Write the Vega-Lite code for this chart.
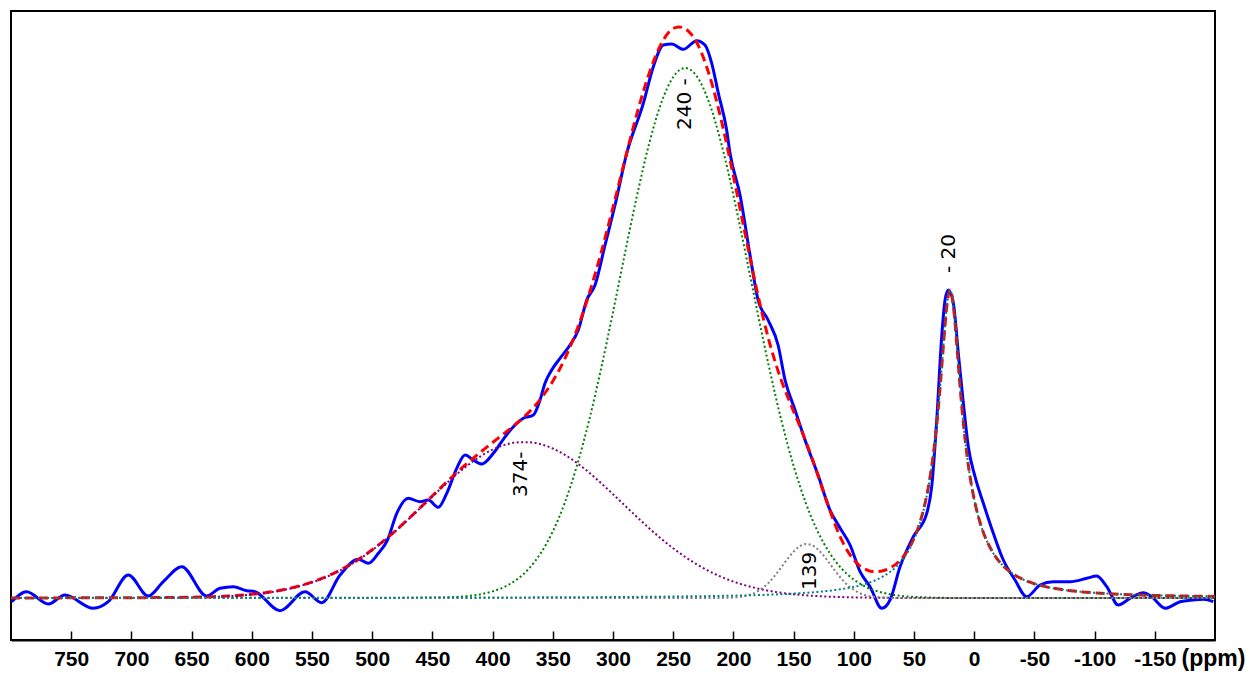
{
  "$schema": "https://vega.github.io/schema/vega-lite/v6.json",
  "width": 1204,
  "height": 629,
  "autosize": {"type": "none"},
  "padding": {"left": 11, "top": 11, "right": 35, "bottom": 33},
  "background": "white",
  "config": {"view": {"stroke": "#000000", "strokeWidth": 2}},
  "datasets": {
    "exp": [
      {"ppm": 799.4, "v": -3.7}, {"ppm": 787.0, "v": 6.3}, {"ppm": 769.0, "v": -6}, {"ppm": 755.2, "v": 3},
      {"ppm": 731.6, "v": -10.3}, {"ppm": 719.2, "v": -3.7}, {"ppm": 702.6, "v": 23}, {"ppm": 686.0, "v": 2},
      {"ppm": 673.5, "v": 16.3}, {"ppm": 658.2, "v": 31.3}, {"ppm": 637.5, "v": 2}, {"ppm": 626.4, "v": 9.7},
      {"ppm": 615.4, "v": 11.3}, {"ppm": 604.2, "v": 7.3}, {"ppm": 597.3, "v": 6.3}, {"ppm": 576.6, "v": -12.7},
      {"ppm": 555.8, "v": 6.3}, {"ppm": 541.9, "v": -4.7}, {"ppm": 526.7, "v": 23}, {"ppm": 511.5, "v": 38.7},
      {"ppm": 503.2, "v": 34.7}, {"ppm": 494.9, "v": 44.7}, {"ppm": 487.3, "v": 58}, {"ppm": 479.6, "v": 84.7},
      {"ppm": 470.0, "v": 99.7}, {"ppm": 460.3, "v": 96.3}, {"ppm": 453.4, "v": 98}, {"ppm": 445.1, "v": 90.7},
      {"ppm": 438.1, "v": 104.7}, {"ppm": 429.8, "v": 129.7}, {"ppm": 422.9, "v": 143}, {"ppm": 416.0, "v": 138},
      {"ppm": 409.0, "v": 134}, {"ppm": 399.4, "v": 144.7}, {"ppm": 391.1, "v": 158.7}, {"ppm": 381.4, "v": 173},
      {"ppm": 374.5, "v": 179.7}, {"ppm": 366.2, "v": 183}, {"ppm": 360.6, "v": 198}, {"ppm": 356.5, "v": 214.7},
      {"ppm": 350.9, "v": 228}, {"ppm": 344.0, "v": 239.7}, {"ppm": 335.7, "v": 253}, {"ppm": 328.8, "v": 268},
      {"ppm": 321.8, "v": 298}, {"ppm": 314.9, "v": 313}, {"ppm": 306.6, "v": 353}, {"ppm": 298.3, "v": 393},
      {"ppm": 288.6, "v": 444.7}, {"ppm": 274.8, "v": 494.7}, {"ppm": 266.5, "v": 531.3}, {"ppm": 258.2, "v": 553},
      {"ppm": 251.2, "v": 554}, {"ppm": 241.6, "v": 548.7}, {"ppm": 230.5, "v": 557.3}, {"ppm": 223.6, "v": 553},
      {"ppm": 218.0, "v": 534.7}, {"ppm": 212.5, "v": 504.7}, {"ppm": 205.6, "v": 468}, {"ppm": 202.8, "v": 444.7},
      {"ppm": 194.5, "v": 403}, {"ppm": 186.2, "v": 343}, {"ppm": 179.5, "v": 298}, {"ppm": 171.2, "v": 278},
      {"ppm": 162.9, "v": 253}, {"ppm": 157.1, "v": 218}, {"ppm": 148.8, "v": 188}, {"ppm": 140.5, "v": 158},
      {"ppm": 129.7, "v": 123}, {"ppm": 119.8, "v": 88}, {"ppm": 111.4, "v": 70}, {"ppm": 103.1, "v": 53},
      {"ppm": 94.8, "v": 26.3}, {"ppm": 86.5, "v": 11.3}, {"ppm": 76.8, "v": -10.3}, {"ppm": 69.9, "v": -2},
      {"ppm": 61.6, "v": 31.3}, {"ppm": 50.6, "v": 61.3}, {"ppm": 39.4, "v": 84.7}, {"ppm": 35.3, "v": 111.3},
      {"ppm": 31.1, "v": 178}, {"ppm": 27.0, "v": 261.3}, {"ppm": 24.2, "v": 298}, {"ppm": 21.5, "v": 308},
      {"ppm": 17.3, "v": 294.7}, {"ppm": 13.2, "v": 244.7}, {"ppm": 9.0, "v": 194.7}, {"ppm": 4.9, "v": 151.3},
      {"ppm": -0.7, "v": 121.3}, {"ppm": -7.6, "v": 94.7}, {"ppm": -15.9, "v": 64.7}, {"ppm": -24.2, "v": 38},
      {"ppm": -33.9, "v": 18}, {"ppm": -43.6, "v": 1.3}, {"ppm": -54.7, "v": 13}, {"ppm": -65.7, "v": 16.3},
      {"ppm": -79.6, "v": 16.3}, {"ppm": -93.5, "v": 19.7}, {"ppm": -101.8, "v": 22}, {"ppm": -110.1, "v": 11.3},
      {"ppm": -119.7, "v": -7}, {"ppm": -129.4, "v": -0.3}, {"ppm": -140.5, "v": 5.3}, {"ppm": -147.4, "v": 1.3},
      {"ppm": -158.5, "v": -10.3}, {"ppm": -171.0, "v": -3.7}, {"ppm": -182.0, "v": -2}, {"ppm": -190.3, "v": -1.3},
      {"ppm": -198.6, "v": -3.7}
    ],
    "fit": [
      {"ppm": 800, "fit": 0.1, "g240": 0, "g374": 0, "g139": 0, "l20": 0.1},
      {"ppm": 790, "fit": 0.1, "g240": 0, "g374": 0, "g139": 0, "l20": 0.1},
      {"ppm": 780, "fit": 0.1, "g240": 0, "g374": 0, "g139": 0, "l20": 0.1},
      {"ppm": 770, "fit": 0.1, "g240": 0, "g374": 0, "g139": 0, "l20": 0.1},
      {"ppm": 760, "fit": 0.1, "g240": 0, "g374": 0, "g139": 0, "l20": 0.1},
      {"ppm": 750, "fit": 0.2, "g240": 0, "g374": 0, "g139": 0, "l20": 0.2},
      {"ppm": 740, "fit": 0.2, "g240": 0, "g374": 0, "g139": 0, "l20": 0.2},
      {"ppm": 730, "fit": 0.2, "g240": 0, "g374": 0, "g139": 0, "l20": 0.2},
      {"ppm": 720, "fit": 0.2, "g240": 0, "g374": 0, "g139": 0, "l20": 0.2},
      {"ppm": 710, "fit": 0.2, "g240": 0, "g374": 0, "g139": 0, "l20": 0.2},
      {"ppm": 700, "fit": 0.3, "g240": 0, "g374": 0.1, "g139": 0, "l20": 0.2},
      {"ppm": 690, "fit": 0.3, "g240": 0, "g374": 0.1, "g139": 0, "l20": 0.2},
      {"ppm": 680, "fit": 0.4, "g240": 0, "g374": 0.2, "g139": 0, "l20": 0.2},
      {"ppm": 670, "fit": 0.4, "g240": 0, "g374": 0.2, "g139": 0, "l20": 0.2},
      {"ppm": 660, "fit": 0.6, "g240": 0, "g374": 0.4, "g139": 0, "l20": 0.2},
      {"ppm": 650, "fit": 0.7, "g240": 0, "g374": 0.5, "g139": 0, "l20": 0.2},
      {"ppm": 640, "fit": 1.0, "g240": 0, "g374": 0.8, "g139": 0, "l20": 0.2},
      {"ppm": 630, "fit": 1.4, "g240": 0, "g374": 1.2, "g139": 0, "l20": 0.2},
      {"ppm": 620, "fit": 1.9, "g240": 0, "g374": 1.7, "g139": 0, "l20": 0.2},
      {"ppm": 610, "fit": 2.7, "g240": 0, "g374": 2.5, "g139": 0, "l20": 0.2},
      {"ppm": 600, "fit": 3.7, "g240": 0, "g374": 3.5, "g139": 0, "l20": 0.2},
      {"ppm": 590, "fit": 5.1, "g240": 0, "g374": 4.9, "g139": 0, "l20": 0.2},
      {"ppm": 580, "fit": 6.8, "g240": 0, "g374": 6.6, "g139": 0, "l20": 0.2},
      {"ppm": 570, "fit": 9.3, "g240": 0, "g374": 9.0, "g139": 0, "l20": 0.3},
      {"ppm": 560, "fit": 12.2, "g240": 0, "g374": 11.9, "g139": 0, "l20": 0.3},
      {"ppm": 550, "fit": 15.9, "g240": 0, "g374": 15.6, "g139": 0, "l20": 0.3},
      {"ppm": 540, "fit": 20.4, "g240": 0, "g374": 20.1, "g139": 0, "l20": 0.3},
      {"ppm": 530, "fit": 25.8, "g240": 0, "g374": 25.5, "g139": 0, "l20": 0.3},
      {"ppm": 520, "fit": 32.3, "g240": 0, "g374": 32.0, "g139": 0, "l20": 0.3},
      {"ppm": 510, "fit": 39.7, "g240": 0, "g374": 39.4, "g139": 0, "l20": 0.3},
      {"ppm": 500, "fit": 48.2, "g240": 0, "g374": 47.9, "g139": 0, "l20": 0.3},
      {"ppm": 490, "fit": 57.7, "g240": 0, "g374": 57.4, "g139": 0, "l20": 0.3},
      {"ppm": 480, "fit": 67.9, "g240": 0, "g374": 67.6, "g139": 0, "l20": 0.3},
      {"ppm": 470, "fit": 79.0, "g240": 0, "g374": 78.6, "g139": 0, "l20": 0.4},
      {"ppm": 460, "fit": 90.5, "g240": 0.1, "g374": 90.0, "g139": 0, "l20": 0.4},
      {"ppm": 450, "fit": 102.2, "g240": 0.3, "g374": 101.5, "g139": 0, "l20": 0.4},
      {"ppm": 440, "fit": 113.8, "g240": 0.6, "g374": 112.8, "g139": 0, "l20": 0.4},
      {"ppm": 430, "fit": 125.2, "g240": 1.1, "g374": 123.6, "g139": 0, "l20": 0.5},
      {"ppm": 420, "fit": 135.8, "g240": 2.0, "g374": 133.3, "g139": 0, "l20": 0.5},
      {"ppm": 410, "fit": 145.9, "g240": 3.7, "g374": 141.7, "g139": 0, "l20": 0.5},
      {"ppm": 400, "fit": 155.5, "g240": 6.6, "g374": 148.4, "g139": 0, "l20": 0.5},
      {"ppm": 390, "fit": 164.9, "g240": 11.2, "g374": 153.1, "g139": 0, "l20": 0.6},
      {"ppm": 380, "fit": 174.6, "g240": 18.4, "g374": 155.6, "g139": 0, "l20": 0.6},
      {"ppm": 370, "fit": 185.6, "g240": 29.2, "g374": 155.8, "g139": 0, "l20": 0.6},
      {"ppm": 360, "fit": 199.3, "g240": 44.9, "g374": 153.7, "g139": 0, "l20": 0.7},
      {"ppm": 350, "fit": 216.8, "g240": 66.6, "g374": 149.5, "g139": 0, "l20": 0.7},
      {"ppm": 340, "fit": 239.3, "g240": 95.4, "g374": 143.2, "g139": 0, "l20": 0.7},
      {"ppm": 330, "fit": 268.1, "g240": 132.2, "g374": 135.1, "g139": 0, "l20": 0.8},
      {"ppm": 320, "fit": 303.3, "g240": 176.9, "g374": 125.6, "g139": 0, "l20": 0.8},
      {"ppm": 310, "fit": 344.7, "g240": 228.8, "g374": 115.0, "g139": 0, "l20": 0.9},
      {"ppm": 300, "fit": 390.7, "g240": 285.9, "g374": 103.8, "g139": 0, "l20": 1.0},
      {"ppm": 290, "fit": 438.5, "g240": 345.2, "g374": 92.3, "g139": 0, "l20": 1.0},
      {"ppm": 280, "fit": 484.8, "g240": 402.8, "g374": 80.9, "g139": 0, "l20": 1.1},
      {"ppm": 270, "fit": 524.5, "g240": 454.2, "g374": 69.8, "g139": 0, "l20": 1.2},
      {"ppm": 260, "fit": 554.0, "g240": 494.9, "g374": 59.3, "g139": 0, "l20": 1.3},
      {"ppm": 250, "fit": 569.5, "g240": 521.0, "g374": 49.7, "g139": 0, "l20": 1.5},
      {"ppm": 245, "fit": 571.0, "g240": 527.7, "g374": 45.3, "g139": 0, "l20": 1.5},
      {"ppm": 240, "fit": 569.3, "g240": 530.0, "g374": 41.0, "g139": 0, "l20": 1.6},
      {"ppm": 235, "fit": 563.8, "g240": 527.7, "g374": 37.1, "g139": 0, "l20": 1.7},
      {"ppm": 230, "fit": 554.5, "g240": 521.0, "g374": 33.4, "g139": 0, "l20": 1.7},
      {"ppm": 220, "fit": 523.0, "g240": 494.9, "g374": 26.7, "g139": 0, "l20": 1.9},
      {"ppm": 210, "fit": 477.5, "g240": 454.2, "g374": 21.1, "g139": 0.1, "l20": 2.1},
      {"ppm": 200, "fit": 422.0, "g240": 402.8, "g374": 16.4, "g139": 0.5, "l20": 2.3},
      {"ppm": 195, "fit": 392.5, "g240": 374.5, "g374": 14.4, "g139": 1.1, "l20": 2.5},
      {"ppm": 190, "fit": 362.5, "g240": 345.2, "g374": 12.6, "g139": 2.1, "l20": 2.6},
      {"ppm": 185, "fit": 333.1, "g240": 315.5, "g374": 11.0, "g139": 3.8, "l20": 2.8},
      {"ppm": 180, "fit": 304.9, "g240": 285.9, "g374": 9.5, "g139": 6.6, "l20": 2.9},
      {"ppm": 175, "fit": 278.8, "g240": 256.8, "g374": 8.2, "g139": 10.7, "l20": 3.1},
      {"ppm": 170, "fit": 255.4, "g240": 228.8, "g374": 7.1, "g139": 16.2, "l20": 3.3},
      {"ppm": 165, "fit": 234.9, "g240": 202.0, "g374": 6.1, "g139": 23.2, "l20": 3.6},
      {"ppm": 160, "fit": 217.0, "g240": 176.9, "g374": 5.2, "g139": 31.1, "l20": 3.8},
      {"ppm": 155, "fit": 201.3, "g240": 153.6, "g374": 4.4, "g139": 39.2, "l20": 4.1},
      {"ppm": 150, "fit": 186.7, "g240": 132.2, "g374": 3.7, "g139": 46.4, "l20": 4.4},
      {"ppm": 145, "fit": 172.4, "g240": 112.8, "g374": 3.2, "g139": 51.6, "l20": 4.8},
      {"ppm": 140, "fit": 157.2, "g240": 95.4, "g374": 2.7, "g139": 53.9, "l20": 5.2},
      {"ppm": 135, "fit": 140.7, "g240": 80.0, "g374": 2.2, "g139": 52.9, "l20": 5.6},
      {"ppm": 130, "fit": 123.4, "g240": 66.6, "g374": 1.9, "g139": 48.8, "l20": 6.1},
      {"ppm": 125, "fit": 105.5, "g240": 54.9, "g374": 1.6, "g139": 42.3, "l20": 6.7},
      {"ppm": 120, "fit": 87.9, "g240": 44.9, "g374": 1.3, "g139": 34.4, "l20": 7.3},
      {"ppm": 115, "fit": 71.9, "g240": 36.4, "g374": 1.1, "g139": 26.3, "l20": 8.1},
      {"ppm": 110, "fit": 57.9, "g240": 29.2, "g374": 0.9, "g139": 18.9, "l20": 8.9},
      {"ppm": 105, "fit": 46.6, "g240": 23.3, "g374": 0.7, "g139": 12.7, "l20": 9.9},
      {"ppm": 100, "fit": 38.2, "g240": 18.4, "g374": 0.6, "g139": 8.1, "l20": 11.1},
      {"ppm": 95, "fit": 32.2, "g240": 14.4, "g374": 0.5, "g139": 4.8, "l20": 12.5},
      {"ppm": 90, "fit": 28.6, "g240": 11.2, "g374": 0.4, "g139": 2.7, "l20": 14.3},
      {"ppm": 85, "fit": 26.6, "g240": 8.6, "g374": 0.3, "g139": 1.4, "l20": 16.3},
      {"ppm": 80, "fit": 26.5, "g240": 6.6, "g374": 0.3, "g139": 0.7, "l20": 18.9},
      {"ppm": 75, "fit": 27.5, "g240": 5.0, "g374": 0.2, "g139": 0.3, "l20": 22.0},
      {"ppm": 70, "fit": 30.0, "g240": 3.7, "g374": 0.2, "g139": 0.1, "l20": 26.0},
      {"ppm": 65, "fit": 33.9, "g240": 2.8, "g374": 0.1, "g139": 0, "l20": 31.0},
      {"ppm": 60, "fit": 39.7, "g240": 2.0, "g374": 0.1, "g139": 0, "l20": 37.6},
      {"ppm": 55, "fit": 48.1, "g240": 1.5, "g374": 0.1, "g139": 0, "l20": 46.5},
      {"ppm": 50, "fit": 59.5, "g240": 1.1, "g374": 0, "g139": 0, "l20": 58.4},
      {"ppm": 48, "fit": 65.3, "g240": 1.0, "g374": 0, "g139": 0, "l20": 64.3},
      {"ppm": 46, "fit": 72.0, "g240": 0.9, "g374": 0, "g139": 0, "l20": 71.1},
      {"ppm": 44, "fit": 79.8, "g240": 0.8, "g374": 0, "g139": 0, "l20": 79.0},
      {"ppm": 42, "fit": 88.8, "g240": 0.7, "g374": 0, "g139": 0, "l20": 88.1},
      {"ppm": 40, "fit": 99.3, "g240": 0.6, "g374": 0, "g139": 0, "l20": 98.7},
      {"ppm": 38, "fit": 111.5, "g240": 0.5, "g374": 0, "g139": 0, "l20": 111.0},
      {"ppm": 36, "fit": 126.0, "g240": 0.4, "g374": 0, "g139": 0, "l20": 125.6},
      {"ppm": 34, "fit": 143.3, "g240": 0.4, "g374": 0, "g139": 0, "l20": 142.9},
      {"ppm": 32, "fit": 163.6, "g240": 0.3, "g374": 0, "g139": 0, "l20": 163.3},
      {"ppm": 30, "fit": 187.7, "g240": 0.3, "g374": 0, "g139": 0, "l20": 187.4},
      {"ppm": 28, "fit": 215.6, "g240": 0.2, "g374": 0, "g139": 0, "l20": 215.4},
      {"ppm": 26, "fit": 246.2, "g240": 0.2, "g374": 0, "g139": 0, "l20": 246.0},
      {"ppm": 24, "fit": 276.1, "g240": 0.1, "g374": 0, "g139": 0, "l20": 276.0},
      {"ppm": 22, "fit": 299.2, "g240": 0.1, "g374": 0, "g139": 0, "l20": 299.1},
      {"ppm": 20, "fit": 308.1, "g240": 0.1, "g374": 0, "g139": 0, "l20": 308.0},
      {"ppm": 18, "fit": 299.2, "g240": 0.1, "g374": 0, "g139": 0, "l20": 299.1},
      {"ppm": 16, "fit": 276.1, "g240": 0.1, "g374": 0, "g139": 0, "l20": 276.0},
      {"ppm": 14, "fit": 246.0, "g240": 0, "g374": 0, "g139": 0, "l20": 246.0},
      {"ppm": 12, "fit": 215.4, "g240": 0, "g374": 0, "g139": 0, "l20": 215.4},
      {"ppm": 10, "fit": 187.4, "g240": 0, "g374": 0, "g139": 0, "l20": 187.4},
      {"ppm": 8, "fit": 163.3, "g240": 0, "g374": 0, "g139": 0, "l20": 163.3},
      {"ppm": 6, "fit": 142.9, "g240": 0, "g374": 0, "g139": 0, "l20": 142.9},
      {"ppm": 4, "fit": 125.6, "g240": 0, "g374": 0, "g139": 0, "l20": 125.6},
      {"ppm": 2, "fit": 111.0, "g240": 0, "g374": 0, "g139": 0, "l20": 111.0},
      {"ppm": 0, "fit": 98.7, "g240": 0, "g374": 0, "g139": 0, "l20": 98.7},
      {"ppm": -2, "fit": 88.1, "g240": 0, "g374": 0, "g139": 0, "l20": 88.1},
      {"ppm": -4, "fit": 79.0, "g240": 0, "g374": 0, "g139": 0, "l20": 79.0},
      {"ppm": -6, "fit": 71.1, "g240": 0, "g374": 0, "g139": 0, "l20": 71.1},
      {"ppm": -8, "fit": 64.3, "g240": 0, "g374": 0, "g139": 0, "l20": 64.3},
      {"ppm": -10, "fit": 58.4, "g240": 0, "g374": 0, "g139": 0, "l20": 58.4},
      {"ppm": -15, "fit": 46.5, "g240": 0, "g374": 0, "g139": 0, "l20": 46.5},
      {"ppm": -20, "fit": 37.6, "g240": 0, "g374": 0, "g139": 0, "l20": 37.6},
      {"ppm": -25, "fit": 31.0, "g240": 0, "g374": 0, "g139": 0, "l20": 31.0},
      {"ppm": -30, "fit": 26.0, "g240": 0, "g374": 0, "g139": 0, "l20": 26.0},
      {"ppm": -35, "fit": 22.0, "g240": 0, "g374": 0, "g139": 0, "l20": 22.0},
      {"ppm": -40, "fit": 18.9, "g240": 0, "g374": 0, "g139": 0, "l20": 18.9},
      {"ppm": -45, "fit": 16.3, "g240": 0, "g374": 0, "g139": 0, "l20": 16.3},
      {"ppm": -50, "fit": 14.3, "g240": 0, "g374": 0, "g139": 0, "l20": 14.3},
      {"ppm": -60, "fit": 11.1, "g240": 0, "g374": 0, "g139": 0, "l20": 11.1},
      {"ppm": -70, "fit": 8.9, "g240": 0, "g374": 0, "g139": 0, "l20": 8.9},
      {"ppm": -80, "fit": 7.3, "g240": 0, "g374": 0, "g139": 0, "l20": 7.3},
      {"ppm": -90, "fit": 6.1, "g240": 0, "g374": 0, "g139": 0, "l20": 6.1},
      {"ppm": -100, "fit": 5.2, "g240": 0, "g374": 0, "g139": 0, "l20": 5.2},
      {"ppm": -110, "fit": 4.4, "g240": 0, "g374": 0, "g139": 0, "l20": 4.4},
      {"ppm": -120, "fit": 3.8, "g240": 0, "g374": 0, "g139": 0, "l20": 3.8},
      {"ppm": -130, "fit": 3.3, "g240": 0, "g374": 0, "g139": 0, "l20": 3.3},
      {"ppm": -140, "fit": 2.9, "g240": 0, "g374": 0, "g139": 0, "l20": 2.9},
      {"ppm": -150, "fit": 2.6, "g240": 0, "g374": 0, "g139": 0, "l20": 2.6},
      {"ppm": -160, "fit": 2.3, "g240": 0, "g374": 0, "g139": 0, "l20": 2.3},
      {"ppm": -170, "fit": 2.1, "g240": 0, "g374": 0, "g139": 0, "l20": 2.1},
      {"ppm": -180, "fit": 1.9, "g240": 0, "g374": 0, "g139": 0, "l20": 1.9},
      {"ppm": -190, "fit": 1.7, "g240": 0, "g374": 0, "g139": 0, "l20": 1.7},
      {"ppm": -200, "fit": 1.6, "g240": 0, "g374": 0, "g139": 0, "l20": 1.6}
    ],
    "labels": [
      {"ppm": 240, "v": 468, "t": "240 -"},
      {"ppm": 376, "v": 101, "t": "374-"},
      {"ppm": 136.4, "v": 8, "t": "139"},
      {"ppm": 21, "v": 325, "t": "- 20"}
    ]
  },
  "encoding": {
    "x": {
      "field": "ppm",
      "type": "quantitative",
      "scale": {"domain": [800, -200], "nice": false, "zero": false},
      "axis": {
        "values": [750, 700, 650, 600, 550, 500, 450, 400, 350, 300, 250, 200, 150, 100, 50, 0, -50, -100, -150],
        "labelExpr": "'' + datum.value",
        "grid": false,
        "domainColor": "#000000",
        "domainWidth": 2,
        "tickColor": "#000000",
        "tickWidth": 1.5,
        "tickSize": -9,
        "labelPadding": 17.5,
        "labelFont": "Liberation Sans",
        "labelFontWeight": "bold",
        "labelFontSize": 21,
        "labelColor": "#000000",
        "labelFlush": false,
        "labelOverlap": false,
        "title": "(ppm)",
        "titleFont": "Liberation Sans",
        "titleFontWeight": "bold",
        "titleFontSize": 23,
        "titleColor": "#000000",
        "titleX": 1170,
        "titleY": 25,
        "titleAlign": "left",
        "titleBaseline": "alphabetic",
        "titleAnchor": null
      }
    }
  },
  "layer": [
    {
      "data": {"name": "exp"},
      "mark": {"type": "line", "color": "#0000FF", "strokeWidth": 3, "interpolate": "monotone"},
      "encoding": {"y": {"field": "v", "type": "quantitative", "scale": {"domain": [-42, 587], "nice": false, "zero": false}, "axis": null}}
    },
    {
      "data": {"name": "fit"},
      "mark": {"type": "line", "color": "#FF0000", "strokeWidth": 3, "strokeDash": [9, 5], "interpolate": "monotone"},
      "encoding": {"y": {"field": "fit", "type": "quantitative", "scale": {"domain": [-42, 587], "nice": false, "zero": false}, "axis": null}}
    },
    {
      "data": {"name": "fit"},
      "mark": {"type": "line", "color": "#008000", "strokeWidth": 2, "strokeDash": [2, 2.5], "interpolate": "monotone"},
      "encoding": {"y": {"field": "g240", "type": "quantitative", "scale": {"domain": [-42, 587], "nice": false, "zero": false}, "axis": null}}
    },
    {
      "data": {"name": "fit"},
      "mark": {"type": "line", "color": "#800080", "strokeWidth": 2, "strokeDash": [2, 2.5], "interpolate": "monotone"},
      "encoding": {"y": {"field": "g374", "type": "quantitative", "scale": {"domain": [-42, 587], "nice": false, "zero": false}, "axis": null}}
    },
    {
      "data": {"name": "fit"},
      "mark": {"type": "line", "color": "#808080", "strokeWidth": 2, "strokeDash": [2, 2.5], "interpolate": "monotone"},
      "encoding": {"y": {"field": "g139", "type": "quantitative", "scale": {"domain": [-42, 587], "nice": false, "zero": false}, "axis": null}}
    },
    {
      "data": {"name": "fit"},
      "mark": {"type": "line", "color": "#008080", "strokeWidth": 2, "strokeDash": [2, 2.5], "interpolate": "monotone"},
      "encoding": {"y": {"field": "l20", "type": "quantitative", "scale": {"domain": [-42, 587], "nice": false, "zero": false}, "axis": null}}
    },
    {
      "data": {"name": "labels"},
      "mark": {"type": "text", "angle": 270, "align": "left", "baseline": "middle", "font": "DejaVu Sans", "fontSize": 20, "color": "#000000"},
      "encoding": {
        "y": {"field": "v", "type": "quantitative", "scale": {"domain": [-42, 587], "nice": false, "zero": false}, "axis": null},
        "text": {"field": "t", "type": "nominal"}
      }
    }
  ]
}
